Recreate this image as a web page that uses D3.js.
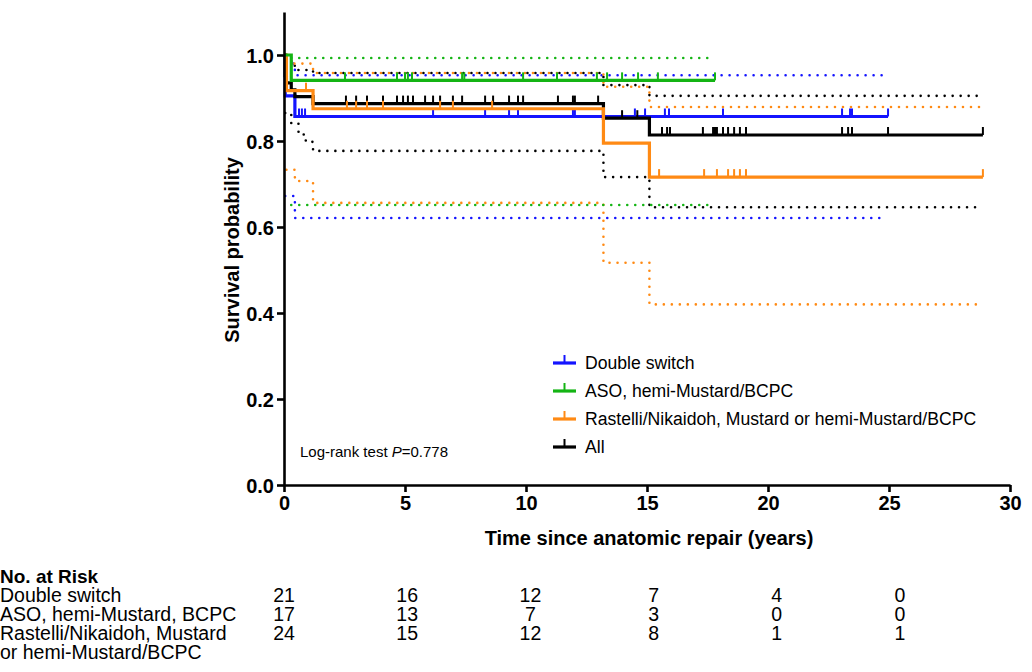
<!DOCTYPE html>
<html>
<head>
<meta charset="utf-8">
<script src="https://cdn.jsdelivr.net/npm/d3@7/dist/d3.min.js"></script>
<style>
  body { margin: 0; background: #fff; }
  svg text { font-family: "Liberation Sans", Arial, sans-serif; }
</style>
</head>
<body>
<svg id="svg" width="1032" height="672"></svg>
<script>
// ---- data ----
var groups = ["Double switch", "ASO, hemi-Mustard/BCPC", "Rastelli/Nikaidoh, Mustard or hemi-Mustard/BCPC", "All"];
var colors = ["#1414ff", "#14b414", "#ff8a14", "#000000"];

// step curves: times where survival changes, values after the change, last follow-up
var blueT = [0, 0.05, 0.45], blueS = [1, 0.905, 0.857], blueEnd = 24.96;
var greenT = [0, 0.3], greenS = [1, 0.941], greenEnd = 17.81;
var orangeT = [0, 0.1, 1.2, 13.2, 15.1], orangeS = [1, 0.917, 0.875, 0.795, 0.716], orangeEnd = 28.88;
var allT = [0, 0.05, 0.1, 0.3, 0.45, 1.2, 13.2, 15.1], allS = [1, 0.952, 0.935, 0.919, 0.903, 0.887, 0.853, 0.814], allEnd = 28.88;

// 95% confidence bands (dotted)
var blueUpT = [0.05, 0.45], blueUp = [0.98, 0.953], blueUpEnd = 24.75;
var blueLoT = [0.05, 0.45], blueLo = [0.672, 0.621], blueLoEnd = 24.8;
var greenUpT = [0.3], greenUp = [0.993], greenUpEnd = 17.7;
var greenLoT = [0.3], greenLo = [0.651], greenLoEnd = 17.7;
var orangeUpT = [0.1, 1.2, 13.2, 15.1], orangeUp = [0.98, 0.958, 0.926, 0.879], orangeUpEnd = 28.88;
var orangeLoT = [0.1, 0.45, 1.2, 13.2, 15.1], orangeLo = [0.733, 0.707, 0.656, 0.517, 0.42], orangeLoEnd = 28.88;
var allUpT = [0.05, 0.3, 0.45, 1.2, 13.2, 15.1], allUp = [0.99, 0.975, 0.965, 0.958, 0.93, 0.905], allUpEnd = 28.88;
var allLoT = [0.05, 0.3, 0.6, 0.9, 1.2, 13.2, 15.1], allLo = [0.865, 0.84, 0.815, 0.798, 0.777, 0.716, 0.646], allLoEnd = 28.88;

// censored observations
var blueCens = [0.62, 0.74, 0.87, 6.16, 8.31, 9.3, 9.67, 11.94, 12.02, 14.5, 14.92, 15.74, 15.91, 18.14, 23.06, 23.39, 23.47, 24.96];
var greenCens = [2.52, 4.67, 5.0, 5.12, 5.29, 7.36, 7.45, 9.88, 11.28, 12.93, 13.35, 13.97, 14.63, 15.45, 17.81];
var orangeCens = [0.91, 2.6, 2.98, 3.43, 4.09, 6.45, 6.98, 8.6, 15.5, 17.36, 17.89, 18.35, 18.6, 18.84, 19.09, 28.88];
var allCens = [2.56, 2.98, 3.43, 4.09, 4.67, 4.92, 5.12, 5.33, 5.83, 6.16, 6.45, 6.98, 7.36, 8.31, 8.64, 9.3, 9.67, 9.88,
               11.32, 11.94, 12.02, 12.98, 13.97, 14.6, 15.62, 15.83, 15.95, 17.31, 17.73, 17.81, 17.89, 18.14, 18.35, 18.6,
               18.84, 19.09, 23.06, 23.31, 23.47, 24.96, 28.88];

// numbers at risk
var riskTimes = [0, 5, 10, 15, 20, 25];
var riskLabels = ["Double switch", "ASO, hemi-Mustard, BCPC", "Rastelli/Nikaidoh, Mustard", "or hemi-Mustard/BCPC"];
var riskBlue = [21, 16, 12, 7, 4, 0];
var riskGreen = [17, 13, 7, 3, 0, 0];
var riskOrange = [24, 15, 12, 8, 1, 1];

var xTicks = [0, 5, 10, 15, 20, 25, 30];
var yTicks = [0, 0.2, 0.4, 0.6, 0.8, 1.0];

// ---- chart ----
var svg = d3.select("#svg");
var x = d3.scaleLinear().domain([0, 30]).range([284, 1010]);
var y = d3.scaleLinear().domain([0, 1.1]).range([485, 12]);

function stepPts(ts, vs, end) {
  var pts = ts.map((t, i) => [t, vs[i]]);
  pts.push([end, vs[vs.length - 1]]);
  return pts;
}
// survival at time t for a step curve
function survAt(ts, vs, t) {
  var s = vs[0];
  ts.forEach((tt, i) => { if (tt <= t) s = vs[i]; });
  return s;
}

var line = d3.line().x(d => x(d[0])).y(d => y(d[1])).curve(d3.curveStepAfter);

var series = [
  {col: colors[0], T: blueT, S: blueS, end: blueEnd, up: stepPts(blueUpT, blueUp, blueUpEnd), lo: stepPts(blueLoT, blueLo, blueLoEnd), cens: blueCens},
  {col: colors[3], T: allT, S: allS, end: allEnd, up: stepPts(allUpT, allUp, allUpEnd), lo: stepPts(allLoT, allLo, allLoEnd), cens: allCens},
  {col: colors[2], T: orangeT, S: orangeS, end: orangeEnd, up: stepPts(orangeUpT, orangeUp, orangeUpEnd), lo: stepPts(orangeLoT, orangeLo, orangeLoEnd), cens: orangeCens},
  {col: colors[1], T: greenT, S: greenS, end: greenEnd, up: stepPts(greenUpT, greenUp, greenUpEnd), lo: stepPts(greenLoT, greenLo, greenLoEnd), cens: greenCens}
];

var plot = svg.append("g").attr("class", "plot");

// dotted bands first
series.forEach(function(s) {
  [s.up, s.lo].forEach(function(pts) {
    plot.append("path")
      .attr("d", line(pts))
      .attr("fill", "none")
      .attr("stroke", s.col)
      .attr("stroke-width", 2.6)
      .attr("stroke-linecap", "round")
      .attr("stroke-dasharray", "0,8");
  });
});

// solid curves with censor ticks
series.forEach(function(s) {
  plot.append("path")
    .attr("d", line(stepPts(s.T, s.S, s.end)))
    .attr("fill", "none")
    .attr("stroke", s.col)
    .attr("stroke-width", 3.2);
  plot.selectAll(null)
    .data(s.cens)
    .enter().append("line")
    .attr("x1", d => x(d)).attr("x2", d => x(d))
    .attr("y1", d => y(survAt(s.T, s.S, d)))
    .attr("y2", d => y(survAt(s.T, s.S, d)) - 8)
    .attr("stroke", s.col)
    .attr("stroke-width", 2);
});

// axes
var yAxis = svg.append("g")
  .attr("transform", "translate(284,0)")
  .call(d3.axisLeft(y).tickValues(yTicks).tickFormat(d3.format(".1f")).tickSize(7).tickSizeOuter(0));
var xAxis = svg.append("g")
  .attr("transform", "translate(0,485)")
  .call(d3.axisBottom(x).tickValues(xTicks).tickSize(7).tickSizeOuter(0));
[yAxis, xAxis].forEach(function(a) {
  a.select(".domain").attr("stroke-width", 2.6).attr("stroke", "#000");
  a.selectAll(".tick line").attr("stroke-width", 2.6);
  a.selectAll(".tick text")
    .style("font-family", "Liberation Sans, Arial, sans-serif")
    .style("font-size", "20px").style("font-weight", 700).attr("fill", "#000");
});
yAxis.selectAll(".tick text").attr("x", -10).attr("dy", "0.35em");
xAxis.selectAll(".tick text").attr("y", 11).attr("dy", "0.71em");

svg.append("text")
  .attr("transform", "translate(239,250) rotate(-90)")
  .attr("text-anchor", "middle")
  .style("font-size", "20px").style("font-weight", 700)
  .text("Survival probability");
svg.append("text")
  .attr("x", 649).attr("y", 545)
  .attr("text-anchor", "middle")
  .style("font-size", "20px").style("font-weight", 700)
  .text("Time since anatomic repair (years)");

// legend
var legY = [363, 391, 419, 447];
var leg = svg.append("g").attr("class", "legend");
groups.forEach(function(g, i) {
  var row = leg.append("g").attr("transform", `translate(553,${legY[i]})`);
  row.append("line").attr("x1", 0).attr("x2", 23).attr("y1", 0).attr("y2", 0)
    .attr("stroke", colors[i]).attr("stroke-width", 3.2);
  row.append("line").attr("x1", 11.5).attr("x2", 11.5).attr("y1", 0).attr("y2", -8)
    .attr("stroke", colors[i]).attr("stroke-width", 2);
  row.append("text").attr("x", 32).attr("y", 0).attr("dy", "0.35em")
    .style("font-size", "17.6px").text(g);
});

var lr = svg.append("text").attr("x", 300).attr("y", 457).style("font-size", "15px");
lr.append("tspan").text("Log-rank test ");
lr.append("tspan").style("font-style", "italic").text("P");
lr.append("tspan").text("=0.778");

// numbers at risk
var rx = d3.scaleLinear().domain([0, 25]).range([284, 900]);
var risk = svg.append("g").attr("class", "risk");
risk.append("text").attr("x", 0).attr("y", 583)
  .style("font-size", "19px").style("font-weight", 700).text("No. at Risk");
var rowY = [602, 621, 640, 659];
riskLabels.forEach(function(l, i) {
  risk.append("text").attr("x", 0).attr("y", rowY[i]).style("font-size", "19.5px").text(l);
});
[riskBlue, riskGreen, riskOrange].forEach(function(vals, r) {
  risk.selectAll(null).data(vals).enter().append("text")
    .attr("x", (d, i) => rx(riskTimes[i]))
    .attr("y", rowY[r])
    .attr("text-anchor", "middle")
    .style("font-size", "19.5px")
    .text(d => d);
});
</script>
</body>
</html>
